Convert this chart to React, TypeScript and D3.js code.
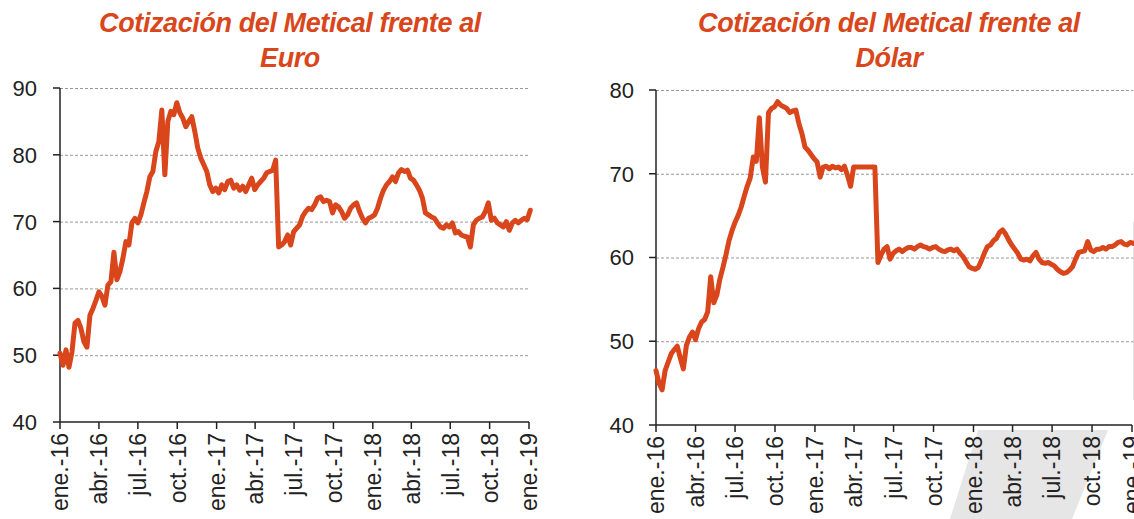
import React, { useEffect, useRef } from 'react';
import * as d3 from 'd3';

// weekly quotes, first week of Jan 2016 to first week of Jan 2019
const euroValues = [
  50.3, 48.5, 50.8, 48.2, 50.5, 54.8, 55.2, 54.0, 52.0, 51.2,
  56.0, 57.0, 58.2, 59.5, 58.8, 57.5, 60.5, 61.0, 65.4, 61.3,
  62.5, 64.5, 67.0, 66.5, 69.8, 70.5, 69.8, 71.0, 72.8, 74.5,
  76.7, 77.5, 80.5, 82.0, 86.7, 77.0, 85.0, 86.5, 86.0, 87.8,
  86.3, 85.5, 84.2, 85.0, 85.7, 83.5, 81.0, 79.5, 78.5, 77.5,
  75.5, 74.5, 75.0, 74.3, 75.5, 74.8, 76.0, 76.2, 75.0, 75.5,
  74.7, 75.3, 74.5, 75.5, 76.5, 74.8, 75.5, 76.0, 76.5, 77.3,
  77.5, 77.7, 79.2, 66.2, 66.5, 67.0, 68.0, 66.5, 68.5, 69.0,
  69.5, 70.8, 71.5, 72.0, 71.8, 72.5, 73.5, 73.7, 73.0, 73.2,
  73.0, 71.3, 72.5, 72.2, 71.5, 70.5, 71.0, 72.0, 72.5, 72.8,
  71.5, 70.5, 69.8, 70.5, 70.7, 71.0, 72.0, 73.5, 74.7, 75.5,
  76.0, 76.7, 76.0, 77.3, 77.8, 77.5, 77.7, 76.5, 76.2, 75.5,
  74.7, 73.5, 71.3, 71.0, 70.7, 70.5, 69.8, 69.2, 69.0, 69.5,
  69.2, 69.8, 68.3, 68.5, 68.0, 67.8, 67.7, 66.2, 69.5, 70.2,
  70.5, 70.7, 71.5, 72.8, 70.2, 70.5, 69.8, 69.5, 69.2, 70.0,
  68.7, 69.8, 70.2, 69.8, 70.2, 70.5, 70.3, 71.7,
];

const dollarValues = [
  46.5, 45.0, 44.2, 46.5, 47.5, 48.5, 49.0, 49.4, 48.0, 46.7,
  49.5, 50.5, 51.1, 50.2, 51.5, 52.3, 52.6, 53.5, 57.7, 54.6,
  55.5, 57.4, 58.8, 60.3, 62.0, 63.2, 64.2, 65.0, 66.0, 67.3,
  68.5, 69.5, 72.0, 71.5, 76.7, 70.8, 69.0, 77.3, 77.8, 78.0,
  78.6, 78.2, 78.0, 77.8, 77.3, 77.5, 77.6, 76.0, 74.8, 73.2,
  72.8, 72.3, 71.8, 71.4, 69.6, 70.8, 70.9, 70.6, 70.9, 70.7,
  70.8, 70.5, 70.9, 69.8, 68.5, 70.8, 70.8, 70.8, 70.8, 70.8,
  70.8, 70.8, 70.8, 59.4, 60.3, 61.0, 61.3, 59.8, 60.5, 60.8,
  61.0, 60.7, 61.0, 61.2, 61.2, 61.0, 61.3, 61.5, 61.3, 61.2,
  61.0, 61.2, 61.3, 61.0, 60.8, 60.7, 60.9, 61.0, 60.8, 61.0,
  60.5, 60.1, 59.5, 58.9, 58.7, 58.6, 58.8, 59.6, 60.5, 61.3,
  61.5, 62.0, 62.3, 63.0, 63.3, 62.8, 62.1, 61.5, 61.0, 60.5,
  59.8, 59.7, 59.8, 59.6, 60.2, 60.6, 59.8, 59.4, 59.3, 59.4,
  59.2, 59.0, 58.6, 58.3, 58.1, 58.2, 58.5, 58.9, 59.8, 60.6,
  60.7, 60.8, 61.9, 60.9, 60.7, 61.0, 61.0, 61.2, 61.0, 61.3,
  61.3, 61.5, 61.8, 61.9, 61.6, 61.5, 61.8, 61.7,
];

const quarterLabels = [
  'ene.-16', 'abr.-16', 'jul.-16', 'oct.-16',
  'ene.-17', 'abr.-17', 'jul.-17', 'oct.-17',
  'ene.-18', 'abr.-18', 'jul.-18', 'oct.-18', 'ene.-19',
];

const euroTicks = [40, 50, 60, 70, 80, 90];
const dollarTicks = [40, 50, 60, 70, 80];

const euroTitle = ['Cotización del Metical frente al', 'Euro'];
const dollarTitle = ['Cotización del Metical frente al', 'Dólar'];

const ORANGE = '#d9461b';
const FONT = '"Liberation Sans", Arial, sans-serif';

function drawPanel(root, opts) {
  const { values, ticks, title, x0, x1, yTop, yBottom, labelX, titleX } = opts;
  const start = new Date(2016, 0, 1);
  const end = new Date(2019, 0, 1);

  const x = d3.scaleTime().domain([start, end]).range([x0, x1]);
  const y = d3.scaleLinear().domain([d3.min(ticks), d3.max(ticks)]).range([yBottom, yTop]);

  const g = root.append('g');

  // title
  g.append('g')
    .selectAll('text')
    .data(title)
    .join('text')
      .attr('x', titleX)
      .attr('y', (d, i) => 32 + i * 35)
      .attr('text-anchor', 'middle')
      .style('font-family', FONT)
      .style('font-weight', 'bold')
      .style('font-style', 'italic')
      .style('font-size', '27px')
      .style('letter-spacing', '-0.4px')
      .style('fill', ORANGE)
      .text(d => d);

  // dashed gridlines
  g.append('g')
    .selectAll('line')
    .data(ticks.slice(1))
    .join('line')
      .attr('x1', x0)
      .attr('x2', x1 + 1)
      .attr('y1', d => y(d) + 0.5)
      .attr('y2', d => y(d) + 0.5)
      .attr('stroke', '#999')
      .attr('stroke-width', 1)
      .attr('stroke-dasharray', '3,2');

  // y axis
  const yAxis = g.append('g');
  yAxis.append('line')
    .attr('x1', x0).attr('x2', x0)
    .attr('y1', yTop).attr('y2', yBottom)
    .attr('stroke', '#222').attr('stroke-width', 1.5);
  yAxis.selectAll('line.tick')
    .data(ticks)
    .join('line')
      .attr('class', 'tick')
      .attr('x1', x0 - 7).attr('x2', x0)
      .attr('y1', d => y(d)).attr('y2', d => y(d))
      .attr('stroke', '#222').attr('stroke-width', 1.5);
  yAxis.selectAll('text')
    .data(ticks)
    .join('text')
      .attr('x', labelX)
      .attr('y', d => y(d))
      .attr('dy', '0.36em')
      .attr('text-anchor', 'end')
      .style('font-family', FONT)
      .style('font-size', '22px')
      .style('fill', '#222')
      .text(d => d);

  // x axis
  const tickDates = d3.timeMonth.every(3).range(start, d3.timeDay.offset(end, 1));
  const xAxis = g.append('g');
  xAxis.append('line')
    .attr('x1', x0).attr('x2', x1)
    .attr('y1', yBottom).attr('y2', yBottom)
    .attr('stroke', '#222').attr('stroke-width', 1.5);
  xAxis.selectAll('line.tick')
    .data(tickDates)
    .join('line')
      .attr('class', 'tick')
      .attr('x1', d => x(d)).attr('x2', d => x(d))
      .attr('y1', yBottom).attr('y2', yBottom + 7)
      .attr('stroke', '#222').attr('stroke-width', 1.5);
  xAxis.selectAll('text')
    .data(tickDates)
    .join('text')
      .attr('transform', d => `translate(${x(d)},${yBottom + 11}) rotate(-90)`)
      .attr('dy', '0.36em')
      .attr('text-anchor', 'end')
      .style('font-family', FONT)
      .style('font-size', '23px')
      .style('fill', '#222')
      .text((d, i) => quarterLabels[i]);

  // series line
  const series = values.map((v, i) => [d3.timeDay.offset(start, 7 * i), v]);
  const line = d3.line()
    .x(d => x(d[0]))
    .y(d => y(d[1]));
  g.append('path')
    .datum(series)
    .attr('d', line)
    .attr('fill', 'none')
    .attr('stroke', ORANGE)
    .attr('stroke-width', 5)
    .attr('stroke-linejoin', 'round')
    .attr('stroke-linecap', 'round');
}

function MeticalCharts() {
  const ref = useRef(null);

  useEffect(() => {
    if (!ref.current) return;
    const svg = d3.select(ref.current).html('')
      .append('svg')
        .attr('width', 1134)
        .attr('height', 519)
        .style('display', 'block')
        .style('background', '#fff');

    // faint grey band behind the right panel's lower labels
    svg.append('polygon')
      .attr('points', '978,430 1108,430 1072,519 950,519')
      .attr('fill', '#e6e6e6');
    svg.append('line')
      .attr('x1', 1133.5).attr('x2', 1133.5)
      .attr('y1', 222).attr('y2', 400)
      .attr('stroke', '#e2e2e2');

    drawPanel(svg, {
      values: euroValues, ticks: euroTicks, title: euroTitle,
      x0: 60, x1: 529, yTop: 88, yBottom: 422, labelX: 37, titleX: 290,
    });
    drawPanel(svg, {
      values: dollarValues, ticks: dollarTicks, title: dollarTitle,
      x0: 656, x1: 1132, yTop: 90, yBottom: 425, labelX: 634, titleX: 889,
    });
  }, []);

  return <div ref={ref} style={{ position: 'absolute', left: 0, top: 0 }}></div>;
}

export default function App() {
  return <MeticalCharts />;
}
